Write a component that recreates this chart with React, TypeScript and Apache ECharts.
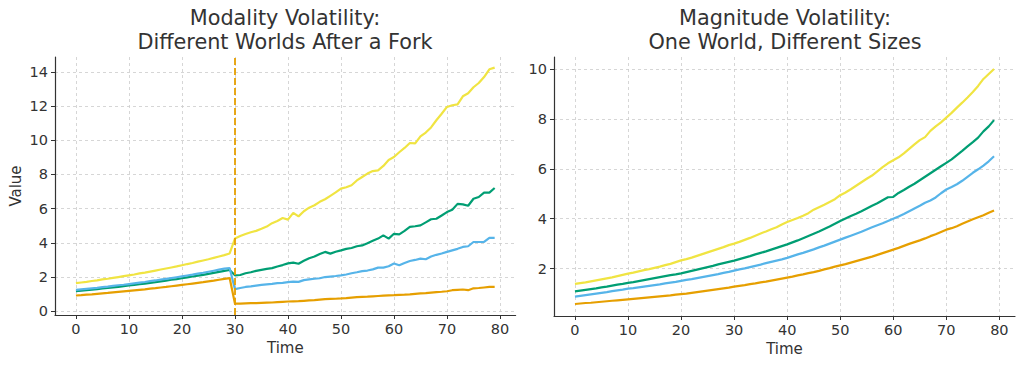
import React, { useEffect, useRef } from "react";
import * as echarts from "echarts";

const TIME: number[] = Array.from({ length: 80 }, (_, i) => i);
const X_TICKS = [0, 10, 20, 30, 40, 50, 60, 70, 80];
const LEFT_Y_TICKS = [0, 2, 4, 6, 8, 10, 12, 14];
const RIGHT_Y_TICKS = [2, 4, 6, 8, 10];
const FORK_T = 30;

const TITLE_LEFT = "Modality Volatility:\nDifferent Worlds After a Fork";
const TITLE_RIGHT = "Magnitude Volatility:\nOne World, Different Sizes";

// Modality chart (left)
const MOD_YELLOW = [
  1.64, 1.68, 1.72, 1.77, 1.81, 1.86, 1.9, 1.95, 2.0, 2.05, 2.1, 2.15, 2.21, 2.26, 2.32, 2.38, 2.44, 2.5, 2.56, 2.62,
  2.69, 2.76, 2.82, 2.9, 2.97, 3.04, 3.12, 3.2, 3.28, 3.38,
  4.25, 4.4, 4.52, 4.62, 4.7, 4.82, 4.95, 5.15, 5.28, 5.45, 5.36, 5.75, 5.55, 5.85, 6.06, 6.2, 6.4, 6.55, 6.75, 6.95,
  7.17, 7.25, 7.37, 7.65, 7.85, 8.05, 8.2, 8.24, 8.5, 8.85, 9.02, 9.3, 9.55, 9.84, 9.82, 10.23, 10.45, 10.75, 11.17, 11.55,
  11.95, 12.05, 12.1, 12.57, 12.75, 13.1, 13.35, 13.7, 14.15, 14.25,
];
const MOD_GREEN = [
  1.17, 1.2, 1.23, 1.26, 1.29, 1.33, 1.36, 1.4, 1.43, 1.47, 1.51, 1.54, 1.58, 1.62, 1.66, 1.7, 1.75, 1.79, 1.84, 1.88,
  1.93, 1.98, 2.03, 2.08, 2.13, 2.19, 2.24, 2.3, 2.36, 2.41,
  2.1, 2.12, 2.22, 2.28, 2.36, 2.42, 2.48, 2.52, 2.62, 2.7, 2.8, 2.84, 2.78, 2.95, 3.1, 3.2, 3.35, 3.47, 3.37, 3.48,
  3.56, 3.65, 3.7, 3.8, 3.85, 3.98, 4.12, 4.25, 4.44, 4.25, 4.53, 4.5, 4.7, 4.93, 4.97, 5.02, 5.2, 5.38, 5.41, 5.6,
  5.8, 5.94, 6.28, 6.25, 6.17, 6.58, 6.68, 6.94, 6.94, 7.21,
];
const MOD_BLUE = [
  1.25, 1.28, 1.31, 1.34, 1.37, 1.41, 1.44, 1.48, 1.52, 1.55, 1.59, 1.63, 1.67, 1.71, 1.76, 1.8, 1.85, 1.89, 1.94, 1.99,
  2.04, 2.09, 2.14, 2.2, 2.25, 2.31, 2.37, 2.43, 2.49, 2.53,
  1.29, 1.36, 1.42, 1.45, 1.5, 1.54, 1.57, 1.6, 1.64, 1.66, 1.7, 1.73, 1.72, 1.82, 1.86, 1.9, 1.93, 2.0, 2.03, 2.06,
  2.1, 2.15, 2.22, 2.28, 2.35, 2.38, 2.45, 2.55, 2.55, 2.63, 2.79, 2.69, 2.82, 2.94, 3.0, 3.08, 3.04, 3.2, 3.3, 3.38,
  3.47, 3.56, 3.65, 3.76, 3.8, 4.05, 4.05, 4.05, 4.29, 4.29,
];
const MOD_ORANGE = [
  0.92, 0.94, 0.97, 0.99, 1.02, 1.05, 1.07, 1.1, 1.13, 1.16, 1.19, 1.22, 1.25, 1.28, 1.32, 1.35, 1.39, 1.42, 1.46, 1.5,
  1.54, 1.58, 1.62, 1.66, 1.7, 1.75, 1.79, 1.84, 1.89, 1.94,
  0.45, 0.45, 0.46, 0.47, 0.48, 0.49, 0.5, 0.51, 0.53, 0.55, 0.57, 0.58, 0.59, 0.61, 0.63, 0.65, 0.68, 0.71, 0.72, 0.73,
  0.75, 0.77, 0.8, 0.83, 0.84, 0.85, 0.87, 0.89, 0.91, 0.93, 0.94, 0.96, 0.97, 0.99, 1.02, 1.04, 1.06, 1.09, 1.12, 1.14,
  1.17, 1.23, 1.25, 1.27, 1.23, 1.34, 1.36, 1.39, 1.42, 1.42,
];

// Magnitude chart (right)
const MAG_YELLOW = [
  1.39, 1.42, 1.45, 1.49, 1.53, 1.57, 1.61, 1.65, 1.7, 1.75, 1.8, 1.84, 1.89, 1.94, 1.98, 2.03, 2.08, 2.14, 2.19, 2.26,
  2.33, 2.38, 2.44, 2.51, 2.58, 2.65, 2.72, 2.79, 2.86, 2.94, 3.0, 3.07, 3.15, 3.23, 3.32, 3.41, 3.49, 3.58, 3.66, 3.77,
  3.87, 3.95, 4.03, 4.12, 4.22, 4.36, 4.46, 4.56, 4.67, 4.78, 4.94, 5.05, 5.18, 5.32, 5.46, 5.6, 5.73, 5.9, 6.07, 6.22,
  6.34, 6.46, 6.62, 6.8, 6.98, 7.15, 7.27, 7.52, 7.7, 7.86, 8.05, 8.24, 8.45, 8.65, 8.86, 9.08, 9.32, 9.6, 9.8, 10.0,
];
const MAG_GREEN = [
  1.09, 1.12, 1.15, 1.18, 1.21, 1.25, 1.28, 1.32, 1.36, 1.39, 1.43, 1.46, 1.5, 1.54, 1.58, 1.62, 1.66, 1.7, 1.74, 1.77,
  1.81, 1.86, 1.91, 1.96, 2.01, 2.06, 2.11, 2.17, 2.22, 2.27, 2.32, 2.38, 2.44, 2.5, 2.57, 2.63, 2.69, 2.76, 2.83, 2.9,
  2.97, 3.05, 3.13, 3.22, 3.31, 3.4, 3.49, 3.59, 3.69, 3.8, 3.91, 4.01, 4.11, 4.2, 4.3, 4.41, 4.52, 4.62, 4.74, 4.86,
  4.87, 5.03, 5.15, 5.28, 5.4, 5.54, 5.68, 5.82, 5.96, 6.1, 6.24, 6.38, 6.55, 6.72, 6.9, 7.07, 7.25, 7.5, 7.7, 7.95,
];
const MAG_BLUE = [
  0.88, 0.91, 0.94, 0.97, 1.0, 1.03, 1.06, 1.1, 1.13, 1.16, 1.2, 1.22, 1.25, 1.28, 1.31, 1.34, 1.37, 1.41, 1.44, 1.47,
  1.51, 1.55, 1.58, 1.62, 1.66, 1.7, 1.74, 1.78, 1.83, 1.87, 1.92, 1.97, 2.01, 2.06, 2.11, 2.16, 2.22, 2.27, 2.32, 2.37,
  2.43, 2.5, 2.57, 2.63, 2.7, 2.77, 2.85, 2.92, 3.0, 3.08, 3.16, 3.24, 3.32, 3.4, 3.48, 3.57, 3.66, 3.74, 3.82, 3.91,
  4.0, 4.09, 4.19, 4.3, 4.41, 4.52, 4.64, 4.73, 4.85, 5.02, 5.17, 5.27, 5.38, 5.52, 5.68, 5.84, 5.98, 6.13, 6.3, 6.5,
];
const MAG_ORANGE = [
  0.58, 0.6, 0.62, 0.63, 0.65, 0.67, 0.69, 0.71, 0.73, 0.75, 0.77, 0.79, 0.81, 0.83, 0.85, 0.87, 0.89, 0.91, 0.93, 0.96,
  0.98, 1.0, 1.03, 1.06, 1.09, 1.12, 1.15, 1.18, 1.21, 1.24, 1.28, 1.31, 1.34, 1.38, 1.41, 1.45, 1.48, 1.52, 1.56, 1.6,
  1.64, 1.68, 1.73, 1.77, 1.82, 1.86, 1.91, 1.97, 2.02, 2.08, 2.13, 2.18, 2.24, 2.3, 2.36, 2.42, 2.48, 2.55, 2.62, 2.69,
  2.76, 2.83, 2.91, 2.99, 3.06, 3.13, 3.21, 3.3, 3.38, 3.47, 3.56, 3.62, 3.7, 3.8, 3.89, 3.98, 4.06, 4.14, 4.24, 4.33,
];

const COLORS = { yellow: "#F0E442", green: "#009E73", blue: "#56B4E9", orange: "#E69F00" };
const FONT = "DejaVu Sans";
const TEXT = "#333333";

function pairs(vals: number[]) {
  return TIME.map((t, i) => [t, vals[i]]);
}

function xAxis(gridIndex: number) {
  return {
    type: "value",
    gridIndex,
    min: -3.95,
    max: 82.95,
    name: "Time",
    nameLocation: "middle",
    nameGap: 24,
    nameTextStyle: { fontFamily: FONT, fontSize: 15, color: TEXT },
    axisLine: { show: true, onZero: false, lineStyle: { color: TEXT, width: 1.2 } },
    axisTick: { show: true, customValues: X_TICKS, length: 4, lineStyle: { color: TEXT, width: 1 } },
    axisLabel: { customValues: X_TICKS, margin: 6, fontFamily: FONT, fontSize: 14.5, color: TEXT },
    splitLine: { show: true, lineStyle: { color: "#cccccc", type: [3, 3], width: 0.8 } },
  };
}

function yAxis(gridIndex: number, min: number, max: number, ticks: number[], name?: string) {
  return {
    type: "value",
    gridIndex,
    min,
    max,
    name: name || "",
    nameLocation: "middle",
    nameRotate: 90,
    nameGap: 32,
    nameTextStyle: { fontFamily: FONT, fontSize: 15, color: TEXT },
    axisLine: { show: true, onZero: false, lineStyle: { color: TEXT, width: 1.2 } },
    axisTick: { show: true, customValues: ticks, length: 4, lineStyle: { color: TEXT, width: 1 } },
    axisLabel: { customValues: ticks, margin: 7, fontFamily: FONT, fontSize: 14.5, color: TEXT },
    splitLine: { show: true, lineStyle: { color: "#cccccc", type: [3, 3], width: 0.8 } },
  };
}

function line(name: string, vals: number[], color: string, idx: number, extra: any = {}) {
  return {
    name,
    type: "line",
    xAxisIndex: idx,
    yAxisIndex: idx,
    data: pairs(vals),
    showSymbol: false,
    symbol: "none",
    lineStyle: { color, width: 2.2 },
    itemStyle: { color },
    ...extra,
  };
}

export default function App() {
  const ref = useRef<HTMLDivElement>(null);
  useEffect(() => {
    if (!ref.current) return;
    const chart = echarts.init(ref.current, null, { renderer: "svg" });
    chart.setOption({
      animation: false,
      backgroundColor: "#ffffff",
      grid: [
        { left: 55, right: 508.4, top: 57, bottom: 51, containLabel: false },
        { left: 554, right: 9, top: 57, bottom: 50, containLabel: false },
      ],
      xAxis: [xAxis(0), xAxis(1)],
      yAxis: [yAxis(0, -0.22, 14.87, LEFT_Y_TICKS, "Value"), yAxis(1, 0.1, 10.48, RIGHT_Y_TICKS)],
      graphic: [
        {
          type: "text",
          x: 285,
          y: 30,
          style: {
            text: TITLE_LEFT,
            fontFamily: FONT,
            fontSize: 20.8,
            lineHeight: 24,
            fill: TEXT,
            textAlign: "center",
            textVerticalAlign: "middle",
          },
        },
        {
          type: "text",
          x: 785,
          y: 30,
          style: {
            text: TITLE_RIGHT,
            fontFamily: FONT,
            fontSize: 20.8,
            lineHeight: 24,
            fill: TEXT,
            textAlign: "center",
            textVerticalAlign: "middle",
          },
        },
      ],
      series: [
        line("World A", MOD_YELLOW, COLORS.yellow, 0, {
          markLine: {
            silent: true,
            symbol: "none",
            label: { show: false },
            lineStyle: { color: COLORS.orange, type: [7, 3], width: 1.8 },
            data: [{ xAxis: FORK_T }],
          },
        }),
        line("World B", MOD_GREEN, COLORS.green, 0),
        line("World C", MOD_BLUE, COLORS.blue, 0),
        line("World D", MOD_ORANGE, COLORS.orange, 0),
        line("Size 1", MAG_YELLOW, COLORS.yellow, 1),
        line("Size 2", MAG_GREEN, COLORS.green, 1),
        line("Size 3", MAG_BLUE, COLORS.blue, 1),
        line("Size 4", MAG_ORANGE, COLORS.orange, 1),
      ],
    });
    return () => chart.dispose();
  }, []);
  return (
    <div
      ref={ref}
      style={{ position: "fixed", left: 0, top: 0, width: 1024, height: 366, background: "#fff" }}
    />
  );
}
